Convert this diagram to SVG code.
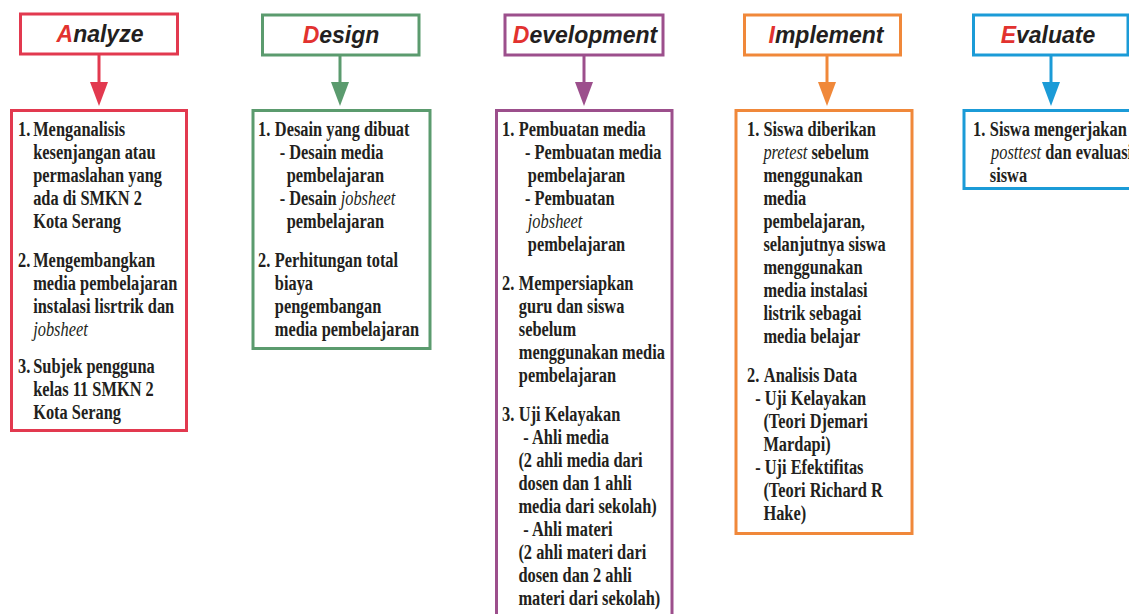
<svg xmlns="http://www.w3.org/2000/svg" width="1129" height="614" viewBox="0 0 1129 614">
<style>
.hdr{fill:#fff;stroke-width:3}
.body{fill:#fff;stroke-width:3}
.ht{font-family:"Liberation Sans",Arial,sans-serif;font-weight:bold;font-style:italic;font-size:23px;fill:#231f20;text-anchor:middle}
.first{fill:#e2322f}
.bt{font-family:"Liberation Serif","Times New Roman",serif;font-weight:bold;font-size:20px;fill:#231f20}
.it{font-style:italic;font-weight:normal}
.conn{stroke-width:3;fill:none}
</style>
<defs>
<marker id="mA" markerUnits="userSpaceOnUse" markerWidth="24" markerHeight="18" refX="1" refY="9" orient="auto" viewBox="0 0 24 18"><path d="M0,0 L24,9 L0,18 Z" fill="#e2394f"/></marker>
<marker id="mD" markerUnits="userSpaceOnUse" markerWidth="24" markerHeight="18" refX="1" refY="9" orient="auto" viewBox="0 0 24 18"><path d="M0,0 L24,9 L0,18 Z" fill="#5b9b6e"/></marker>
<marker id="mV" markerUnits="userSpaceOnUse" markerWidth="24" markerHeight="18" refX="1" refY="9" orient="auto" viewBox="0 0 24 18"><path d="M0,0 L24,9 L0,18 Z" fill="#9c4f8c"/></marker>
<marker id="mI" markerUnits="userSpaceOnUse" markerWidth="24" markerHeight="18" refX="1" refY="9" orient="auto" viewBox="0 0 24 18"><path d="M0,0 L24,9 L0,18 Z" fill="#f0883a"/></marker>
<marker id="mE" markerUnits="userSpaceOnUse" markerWidth="24" markerHeight="18" refX="1" refY="9" orient="auto" viewBox="0 0 24 18"><path d="M0,0 L24,9 L0,18 Z" fill="#1b9bd7"/></marker>
</defs>
<rect width="1129" height="614" fill="#fff"/>

<g id="connectors">
<line class="conn" x1="99" y1="55" x2="99" y2="83" stroke="#e2394f" marker-end="url(#mA)"/>
<line class="conn" x1="340" y1="55" x2="340" y2="83" stroke="#5b9b6e" marker-end="url(#mD)"/>
<line class="conn" x1="584" y1="55" x2="584" y2="83" stroke="#9c4f8c" marker-end="url(#mV)"/>
<line class="conn" x1="827" y1="55" x2="827" y2="83" stroke="#f0883a" marker-end="url(#mI)"/>
<line class="conn" x1="1051" y1="55" x2="1051" y2="83" stroke="#1b9bd7" marker-end="url(#mE)"/>
</g>

<g id="analyze-header">
<rect class="hdr" x="20.5" y="14" width="157" height="40" stroke="#e2394f"/>
<text class="ht" x="100" y="42"><tspan class="first">A</tspan>nalyze</text>
</g>
<g id="design-header">
<rect class="hdr" x="262.5" y="15" width="156.5" height="40" stroke="#5b9b6e"/>
<text class="ht" x="341" y="43"><tspan class="first">D</tspan>esign</text>
</g>
<g id="development-header">
<rect class="hdr" x="505" y="15" width="158" height="40" stroke="#9c4f8c"/>
<text class="ht" x="585" y="43"><tspan class="first">D</tspan>evelopment</text>
</g>
<g id="implement-header">
<rect class="hdr" x="744.5" y="15" width="156" height="40" stroke="#f0883a"/>
<text class="ht" x="826" y="43"><tspan class="first">I</tspan>mplement</text>
</g>
<g id="evaluate-header">
<rect class="hdr" x="973.5" y="15" width="154.5" height="40" stroke="#1b9bd7"/>
<text class="ht" x="1048" y="43"><tspan class="first">E</tspan>valuate</text>
</g>

<g id="analyze-body">
<rect class="body" x="11.5" y="110.5" width="175" height="320" stroke="#e2394f"/>
<g class="bt" transform="translate(18,0) scale(0.82,1)">
<text x="0" y="136">1.</text>
<text x="18.5" y="136">Menganalisis</text>
<text x="18.5" y="159">kesenjangan atau</text>
<text x="18.5" y="182">permaslahan yang</text>
<text x="18.5" y="205">ada di SMKN 2</text>
<text x="18.5" y="228">Kota Serang</text>
<text x="0" y="267">2.</text>
<text x="18.5" y="267">Mengembangkan</text>
<text x="18.5" y="290">media pembelajaran</text>
<text x="18.5" y="313">instalasi lisrtrik dan</text>
<text x="18.5" y="336" class="it">jobsheet</text>
<text x="0" y="373">3.</text>
<text x="18.5" y="373">Subjek pengguna</text>
<text x="18.5" y="396">kelas 11 SMKN 2</text>
<text x="18.5" y="419">Kota Serang</text>
</g>
</g>

<g id="design-body">
<rect class="body" x="253" y="110.5" width="177" height="238" stroke="#5b9b6e"/>
<g class="bt" transform="translate(258,0) scale(0.82,1)">
<text x="0" y="136">1.</text>
<text x="20.5" y="136">Desain yang dibuat</text>
<text x="26.5" y="159">- Desain media</text>
<text x="35" y="182">pembelajaran</text>
<text x="26.5" y="205">- Desain <tspan class="it">jobsheet</tspan></text>
<text x="35" y="228">pembelajaran</text>
<text x="0" y="267">2.</text>
<text x="20.5" y="267">Perhitungan total</text>
<text x="20.5" y="290">biaya</text>
<text x="20.5" y="313">pengembangan</text>
<text x="20.5" y="336">media pembelajaran</text>
</g>
</g>

<g id="development-body">
<rect class="body" x="496.5" y="110.5" width="175.5" height="520" stroke="#9c4f8c"/>
<g class="bt" transform="translate(502,0) scale(0.82,1)">
<text x="0" y="136">1.</text>
<text x="20.5" y="136">Pembuatan media</text>
<text x="28" y="159">- Pembuatan media</text>
<text x="31.5" y="182">pembelajaran</text>
<text x="28" y="205">- Pembuatan</text>
<text x="31.5" y="228" class="it">jobsheet</text>
<text x="31.5" y="251">pembelajaran</text>
<text x="0" y="290">2.</text>
<text x="20.5" y="290">Mempersiapkan</text>
<text x="20.5" y="313">guru dan siswa</text>
<text x="20.5" y="336">sebelum</text>
<text x="20.5" y="359">menggunakan media</text>
<text x="20.5" y="382">pembelajaran</text>
<text x="0" y="421">3.</text>
<text x="20.5" y="421">Uji Kelayakan</text>
<text x="26" y="444">- Ahli media</text>
<text x="20" y="467">(2 ahli media dari</text>
<text x="20" y="490">dosen dan 1 ahli</text>
<text x="20" y="513">media dari sekolah)</text>
<text x="26" y="536">- Ahli materi</text>
<text x="20" y="559">(2 ahli materi dari</text>
<text x="20" y="582">dosen dan 2 ahli</text>
<text x="20" y="605">materi dari sekolah)</text>
</g>
</g>

<g id="implement-body">
<rect class="body" x="736" y="110.5" width="176" height="423" stroke="#f0883a"/>
<g class="bt" transform="translate(747,0) scale(0.82,1)">
<text x="0" y="136">1.</text>
<text x="20" y="136">Siswa diberikan</text>
<text x="20" y="159"><tspan class="it">pretest</tspan> sebelum</text>
<text x="20" y="182">menggunakan</text>
<text x="20" y="205">media</text>
<text x="20" y="228">pembelajaran,</text>
<text x="20" y="251">selanjutnya siswa</text>
<text x="20" y="274">menggunakan</text>
<text x="20" y="297">media instalasi</text>
<text x="20" y="320">listrik sebagai</text>
<text x="20" y="343">media belajar</text>
<text x="0" y="382">2.</text>
<text x="20.5" y="382">Analisis Data</text>
<text x="10" y="405">- Uji Kelayakan</text>
<text x="20" y="428">(Teori Djemari</text>
<text x="20" y="451">Mardapi)</text>
<text x="10" y="474">- Uji Efektifitas</text>
<text x="20" y="497">(Teori Richard R</text>
<text x="20" y="520">Hake)</text>
</g>
</g>

<g id="evaluate-body">
<rect class="body" x="964" y="110.5" width="180" height="78" stroke="#1b9bd7"/>
<g class="bt" transform="translate(973,0) scale(0.82,1)">
<text x="0" y="136">1.</text>
<text x="20.5" y="136">Siswa mengerjakan</text>
<text x="22" y="159"><tspan class="it">posttest</tspan> dan evaluasi</text>
<text x="20.5" y="182">siswa</text>
</g>
</g>
</svg>
